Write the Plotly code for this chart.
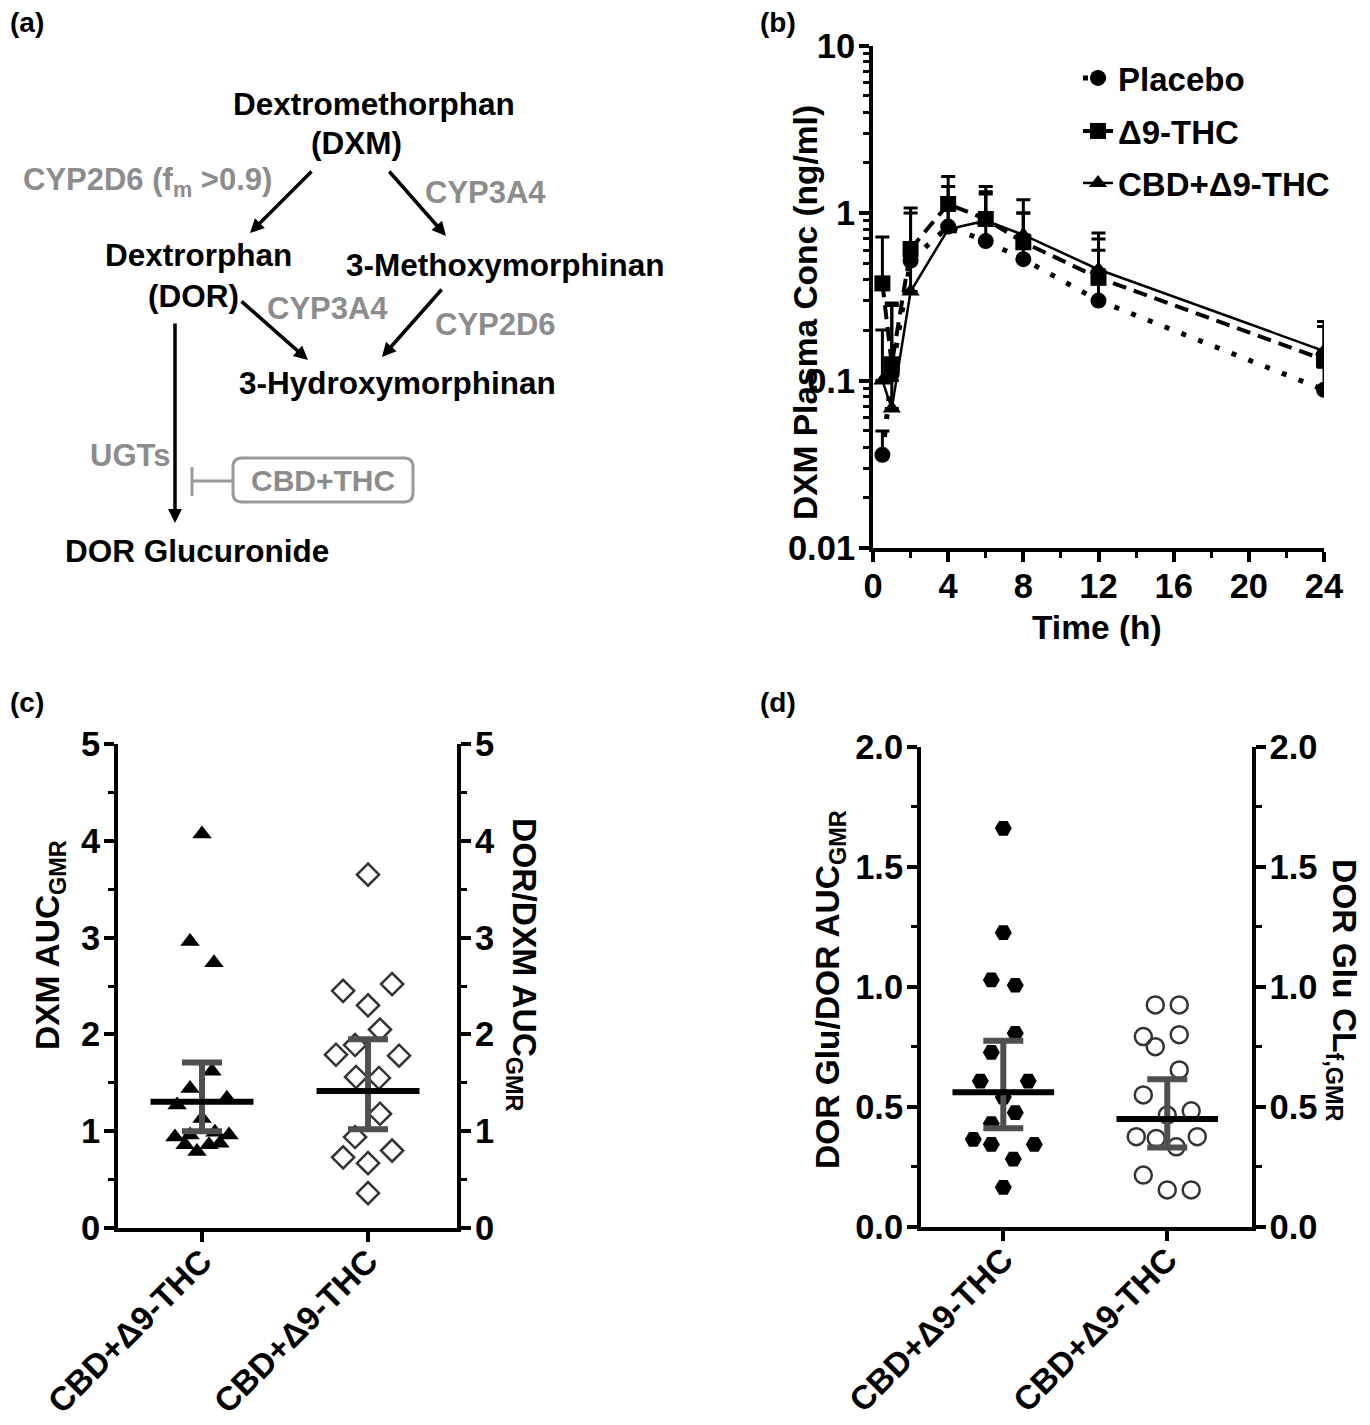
import plotly.graph_objects as go

# page body has an 8px default margin, so the figure is drawn 8px in
W, H = 1362, 1417
OFF = 8

def px(x):
    return (x - OFF) / W

def py(y):
    return 1 - (y - OFF) / H

# ---------------- data ----------------
# Panel (b): DXM plasma concentration time course (ng/ml)
time_h = [0.5, 1, 2, 4, 6, 8, 12, 24]
placebo_mean = [0.036, 0.11, 0.52, 0.83, 0.68, 0.53, 0.30, 0.088]
placebo_top = [0.05, 0.28, 1.00, 1.44, 1.34, 1.00, 0.60, 0.12]
thc_mean = [0.38, 0.125, 0.61, 1.13, 0.92, 0.67, 0.41, 0.133]
thc_top = [0.72, 0.29, 1.07, 1.65, 1.44, 1.20, 0.76, 0.225]
cbd_mean = [0.10, 0.068, 0.34, 0.80, 0.90, 0.74, 0.46, 0.15]
cbd_top = [0.20, 0.10, 0.55, 1.20, 1.30, 1.00, 0.70, 0.21]
series_names = ["Placebo", "Δ9-THC", "CBD+Δ9-THC"]

# Panel (c)
category_labels = ["CBD+Δ9-THC", "CBD+Δ9-THC"]
dxm_auc_gmr = [4.07, 2.96, 2.74, 1.62, 1.44, 1.34, 1.27, 1.13,
               0.94, 0.96, 0.99, 0.96, 0.86, 0.86, 0.875, 0.79]
dxm_auc_jitter = [0, -0.072, 0.072, 0.06, -0.072, 0.15, -0.15, 0,
                  -0.163, -0.072, 0.078, 0.163, -0.102, 0.042, 0.108, -0.03]
dxm_auc_stats = [1.305, 1.00, 1.71]  # mean, lower CI, upper CI
dor_dxm_gmr = [3.65, 2.45, 2.52, 2.30, 2.05, 1.89, 1.79, 1.78,
               1.56, 1.55, 1.18, 0.94, 0.80, 0.73, 0.67, 0.36]
dor_dxm_jitter = [0, -0.15, 0.145, 0, 0.072, -0.078, -0.193, 0.187,
                  -0.072, 0.066, 0.072, -0.078, 0.145, -0.15, 0, 0]
dor_dxm_stats = [1.415, 1.02, 1.95]

# Panel (d)
glu_dor_gmr = [1.66, 1.225, 1.028, 1.006, 0.806, 0.726, 0.607, 0.607,
               0.54, 0.475, 0.43, 0.364, 0.343, 0.343, 0.282, 0.164]
glu_dor_jitter = [0, 0, -0.073, 0.073, 0.073, -0.073, -0.14, 0.152,
                  0, 0.073, -0.073, -0.183, -0.073, 0.189, 0.061, 0]
glu_dor_stats = [0.56, 0.41, 0.775]
glu_cl_gmr = [0.924, 0.924, 0.792, 0.75, 0.80, 0.653, 0.549, 0.465,
              0.483, 0.375, 0.368, 0.375, 0.333, 0.215, 0.153, 0.153]
glu_cl_jitter = [-0.073, 0.073, -0.146, -0.073, 0.073, 0.073, -0.146, 0,
                 0.146, -0.189, -0.067, 0.183, 0.055, -0.146, 0, 0.146]
glu_cl_stats = [0.449, 0.33, 0.614]

FONT = "Liberation Sans, Arial, sans-serif"
GREY_TXT = "#8c8c8c"
BAR_GREY = "#4f4f4f"

fig = go.Figure()

# ---------------- panel (b) ----------------
b_styles = [
    dict(symbol="circle", dash="5px,13px", width=5, legend="legend"),
    dict(symbol="square", dash="14px,8px", width=4, legend="legend2"),
    dict(symbol="triangle-up", dash="solid", width=2.5, legend="legend3"),
]
for name, mean, top, st in zip(series_names,
                               [placebo_mean, thc_mean, cbd_mean],
                               [placebo_top, thc_top, cbd_top], b_styles):
    fig.add_trace(go.Scatter(
        x=time_h, y=mean, name=name, mode="lines+markers",
        xaxis="x", yaxis="y", legend=st["legend"],
        line=dict(color="black", width=st["width"], dash=st["dash"]),
        marker=dict(symbol=st["symbol"], size=16, color="black"),
        error_y=dict(type="data", symmetric=False,
                     array=[t - m for t, m in zip(top, mean)],
                     arrayminus=[0] * len(mean),
                     color="black", thickness=3, width=7),
    ))


def dot_group(xaxis, yaxis, cat, values, jitter, stats, marker):
    fig.add_trace(go.Scatter(
        x=[cat + j for j in jitter], y=values, mode="markers",
        xaxis=xaxis, yaxis=yaxis, showlegend=False, marker=marker,
    ))
    mean, lo, hi = stats
    fig.add_trace(go.Scatter(
        x=[cat], y=[mean], mode="markers", xaxis=xaxis, yaxis=yaxis,
        showlegend=False, marker=dict(size=1, color="rgba(0,0,0,0)"),
        error_y=dict(type="data", symmetric=False, array=[hi - mean],
                     arrayminus=[mean - lo], color=BAR_GREY,
                     thickness=6, width=20),
    ))
    fig.add_trace(go.Scatter(
        x=[cat], y=[mean], mode="markers", xaxis=xaxis, yaxis=yaxis,
        showlegend=False, marker=dict(size=1, color="rgba(0,0,0,0)"),
        error_x=dict(type="constant", value=0.31, color="black",
                     thickness=6, width=0),
    ))


# ---------------- panel (c) ----------------
dot_group("x2", "y2", 0, dxm_auc_gmr, dxm_auc_jitter, dxm_auc_stats,
          dict(symbol="triangle-up", size=17, color="black"))
dot_group("x2", "y3", 1, dor_dxm_gmr, dor_dxm_jitter, dor_dxm_stats,
          dict(symbol="diamond-open", size=17, color="#333333",
               line=dict(width=2.5, color="#333333")))

# ---------------- panel (d) ----------------
dot_group("x4", "y4", 0, glu_dor_gmr, glu_dor_jitter, glu_dor_stats,
          dict(symbol="hexagon2", size=17, color="black"))
dot_group("x4", "y5", 1, glu_cl_gmr, glu_cl_jitter, glu_cl_stats,
          dict(symbol="circle-open", size=17, color="#333333",
               line=dict(width=2.5, color="#333333")))

axis_common = dict(showline=True, linewidth=4, linecolor="black",
                   ticks="outside", ticklen=10, tickwidth=4, tickcolor="black",
                   showgrid=False, zeroline=False, automargin=False,
                   tickfont=dict(size=34.5, family=FONT, color="black", weight="bold"))
y_common = dict(ticklabelstandoff=-3, **axis_common)
cat_common = dict(axis_common)
cat_common.update(ticklabelstandoff=-14, tickangle=-45,
                  tickfont=dict(size=33.5, family=FONT, color="black", weight="bold"))

fig.update_layout(
    width=W, height=H,
    margin=dict(l=0, r=0, t=0, b=0, autoexpand=False),
    paper_bgcolor="white", plot_bgcolor="white",
    font=dict(family=FONT, color="black", size=30, weight="bold"),
    # panel (b)
    xaxis=dict(domain=[px(873), px(1324)], anchor="y", range=[0, 24],
               dtick=4, ticklabelstandoff=-5,
               minor=dict(ticks="outside", dtick=2, ticklen=6,
                          tickwidth=3, tickcolor="black"),
               **axis_common),
    yaxis=dict(domain=[py(548), py(45.5)], anchor="x", type="log",
               range=[-2, 1], tickvals=[0.01, 0.1, 1, 10],
               ticktext=["0.01", "0.1", "1", "10"],
               minor=dict(ticks="outside", ticklen=6, tickwidth=3,
                          tickcolor="black",
                          tickvals=[k * 10 ** e for e in (-2, -1, 0)
                                    for k in range(2, 10)]),
               **y_common),
    # panel (c)
    xaxis2=dict(domain=[px(118), px(457)], anchor="y2", range=[-0.506, 1.536],
                tickvals=[0, 1], ticktext=category_labels, **cat_common),
    yaxis2=dict(domain=[py(1228), py(744)], anchor="x2", range=[0, 5],
                dtick=1, minor=dict(ticks="outside", dtick=0.5, ticklen=6,
                                    tickwidth=3, tickcolor="black"),
                **y_common),
    yaxis3=dict(overlaying="y2", anchor="x2", side="right", range=[0, 5],
                dtick=1, minor=dict(ticks="outside", dtick=0.5, ticklen=6,
                                    tickwidth=3, tickcolor="black"),
                **y_common),
    # panel (d)
    xaxis4=dict(domain=[px(921), px(1251.7)], anchor="y4", range=[-0.502, 1.515],
                tickvals=[0, 1], ticktext=category_labels, **cat_common),
    yaxis4=dict(domain=[py(1226.7), py(746.7)], anchor="x4", range=[0, 2],
                dtick=0.5, tickformat=".1f",
                minor=dict(ticks="outside", dtick=0.25, ticklen=6,
                           tickwidth=3, tickcolor="black"),
                **y_common),
    yaxis5=dict(overlaying="y4", anchor="x4", side="right", range=[0, 2],
                dtick=0.5, tickformat=".1f",
                minor=dict(ticks="outside", dtick=0.25, ticklen=6,
                           tickwidth=3, tickcolor="black"),
                **y_common),
)

leg_common = dict(xanchor="left", yanchor="middle", bgcolor="rgba(0,0,0,0)",
                  font=dict(size=33, family=FONT, color="black", weight="bold"),
                  itemsizing="trace")
fig.update_layout(
    legend=dict(x=px(1078), y=py(78), **leg_common),
    legend2=dict(x=px(1078), y=py(131), **leg_common),
    legend3=dict(x=px(1078), y=py(183), **leg_common),
)

ann = []


def text(x, y, s, size=31.5, color="black", angle=0):
    ann.append(dict(x=px(x), y=py(y), xref="paper", yref="paper", text=s,
                    showarrow=False, xanchor="center", yanchor="middle",
                    textangle=angle,
                    font=dict(size=size, color=color, family=FONT, weight="bold")))


# panel letters
text(27, 22, "(a)", 28)
text(778, 22, "(b)", 28)
text(27, 702, "(c)", 28)
text(778, 702, "(d)", 28)

# panel (a) diagram
text(374, 104, "Dextromethorphan")
text(356, 143, "(DXM)")
text(147, 182, "CYP2D6 (f<sub>m</sub> >0.9)", 31, GREY_TXT)
text(485, 193, "CYP3A4", 31, GREY_TXT)
text(198, 255, "Dextrorphan")
text(193, 296, "(DOR)")
text(505, 265, "3-Methoxymorphinan")
text(327, 308, "CYP3A4", 31, GREY_TXT)
text(495, 325, "CYP2D6", 31, GREY_TXT)
text(397, 383, "3-Hydroxymorphinan")
text(130, 455, "UGTs", 31, GREY_TXT)
text(323, 481, "CBD+THC", 30, GREY_TXT)
text(197, 551, "DOR Glucuronide")

arrows = [((250, 233), (313, 170)), ((446, 236), (388, 170)),
          ((308, 360), (240, 300)), ((382, 357), (443, 288)),
          ((175, 523), (175, 322))]
for (hx, hy), (tx, ty) in arrows:
    ann.append(dict(x=px(hx), y=py(hy), xref="paper", yref="paper",
                    ax=tx - hx, ay=ty - hy, showarrow=True, arrowhead=2,
                    arrowsize=0.8, arrowwidth=3.5, arrowcolor="black", text=""))

# axis titles
text(806, 313, "DXM Plasma Conc (ng/ml)", 33.5, angle=-90)
text(1097, 627, "Time (h)", 33.5)
text(50, 945, "DXM AUC<sub>GMR</sub>", 33.5, angle=-90)
text(522, 965, "DOR/DXM AUC<sub>GMR</sub>", 33.5, angle=90)
text(830, 990, "DOR Glu/DOR AUC<sub>GMR</sub>", 33.5, angle=-90)
text(1342, 990, "DOR Glu CL<sub>f,GMR</sub>", 33.5, angle=90)

fig.update_layout(annotations=ann)

# inhibition symbol and rounded box
x0, x1, y0, y1 = px(233), px(413), py(458), py(502)
rx, ry = 9 / W, 9 / H
box_path = (f"M{x0+rx},{y0} L{x1-rx},{y0} Q{x1},{y0} {x1},{y0-ry} "
            f"L{x1},{y1+ry} Q{x1},{y1} {x1-rx},{y1} L{x0+rx},{y1} "
            f"Q{x0},{y1} {x0},{y1+ry} L{x0},{y0-ry} Q{x0},{y0} {x0+rx},{y0} Z")
fig.add_shape(type="path", path=box_path, xref="paper", yref="paper",
              line=dict(color="#9a9a9a", width=3))
fig.add_shape(type="line", xref="paper", yref="paper",
              x0=px(192), x1=px(233), y0=py(481), y1=py(481),
              line=dict(color="#9a9a9a", width=3))
fig.add_shape(type="line", xref="paper", yref="paper",
              x0=px(192), x1=px(192), y0=py(467), y1=py(496),
              line=dict(color="#9a9a9a", width=3))

fig.write_html("out.html")
